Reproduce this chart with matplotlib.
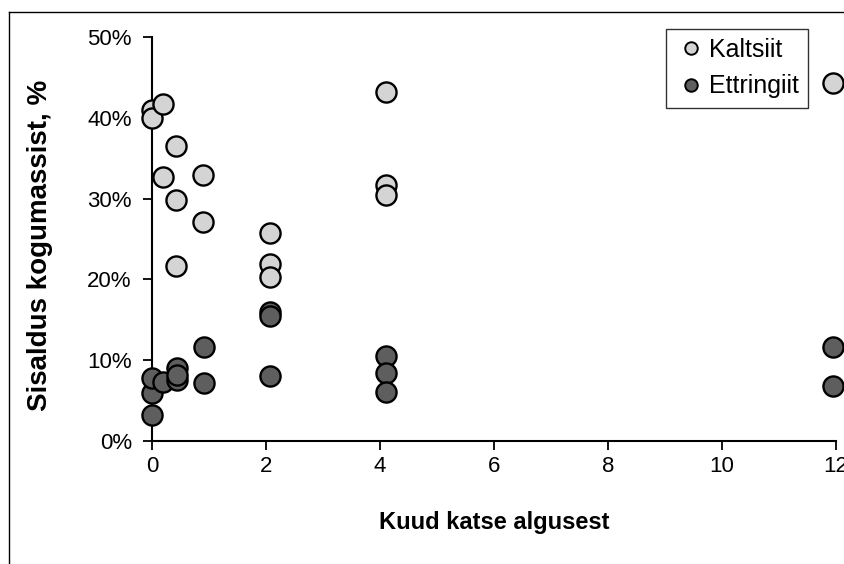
import numpy as np
import matplotlib.pyplot as plt
from matplotlib.lines import Line2D

# andmed: kuud katse algusest, sisaldus %
kalts_x = [0.0, 0.0, 0.19, 0.42, 0.19, 0.9, 0.42, 0.9, 0.42, 2.07, 2.07, 2.07, 4.1, 4.1, 4.1, 11.95]
kalts_y = [41.0, 40.0, 41.7, 36.5, 32.7, 32.9, 29.8, 27.1, 21.7, 25.7, 21.9, 20.3, 43.2, 31.7, 30.4, 44.3]
ettr_x = [0.0, 0.0, 0.0, 0.19, 0.44, 0.44, 0.44, 0.91, 0.91, 2.07, 2.07, 2.07, 4.1, 4.1, 4.1, 11.95, 11.95]
ettr_y = [3.2, 5.9, 7.8, 7.3, 9.0, 7.5, 8.2, 11.6, 7.2, 16.0, 15.5, 8.0, 10.5, 8.4, 6.1, 11.6, 6.8]

plt.rcParams['font.family'] = ['Liberation Sans', 'DejaVu Sans']

fig = plt.figure(figsize=(8.45, 5.64), dpi=100)
ax = fig.add_axes([152/845, 1-441/564, 684/845, 404/564])

ax.scatter(kalts_x, kalts_y, s=210, c='#d4d4d4', edgecolors='black', linewidths=1.7, clip_on=False, zorder=3)
ax.scatter(ettr_x, ettr_y, s=210, c='#5e5e5e', edgecolors='black', linewidths=1.7, clip_on=False, zorder=3)

ax.set_xlim(0, 12)
ax.set_ylim(0, 50)
ax.set_xticks([0, 2, 4, 6, 8, 10, 12])
ax.set_yticks([0, 10, 20, 30, 40, 50])
ax.set_yticklabels([f'{v}%' for v in [0, 10, 20, 30, 40, 50]])
ax.tick_params(labelsize=16, width=1.3, length=6.5, direction='out', colors='black')
ax.tick_params(axis='y', pad=8)
ax.tick_params(axis='x', pad=4)
ax.spines['top'].set_visible(False)
ax.spines['right'].set_visible(False)
ax.spines['left'].set_linewidth(1.5)
ax.spines['bottom'].set_linewidth(1.5)

ax.set_xlabel('Kuud katse algusest', fontsize=17, fontweight='bold', va='center')
ax.xaxis.set_label_coords(0.5, (441-522)/404)
ax.set_ylabel('Sisaldus kogumassist, %', fontsize=20, fontweight='bold', va='center')
ax.yaxis.set_label_coords((40-152)/684, (441-245)/404)

handles = [Line2D([], [], marker='o', ls='', markersize=9, markerfacecolor='#d4d4d4', markeredgecolor='black', markeredgewidth=1.4),
           Line2D([], [], marker='o', ls='', markersize=9, markerfacecolor='#5e5e5e', markeredgecolor='black', markeredgewidth=1.4)]
leg = fig.legend(handles, ['Kaltsiit', 'Ettringiit'], loc='upper left', bbox_to_anchor=(666/845, 1-29/564),
                 fontsize=18, frameon=True, fancybox=False, edgecolor='black', handletextpad=0.05,
                 handlelength=1.3, borderpad=0.36, labelspacing=0.5, borderaxespad=0)
leg.get_frame().set_linewidth(1.0)

# raam ümber pildi
fig.add_artist(Line2D([9/845, 1], [1-12/564, 1-12/564], color='black', lw=1.0))
fig.add_artist(Line2D([9/845, 9/845], [0, 1-12/564], color='black', lw=1.0))

fig.savefig('out.png', dpi=100)
